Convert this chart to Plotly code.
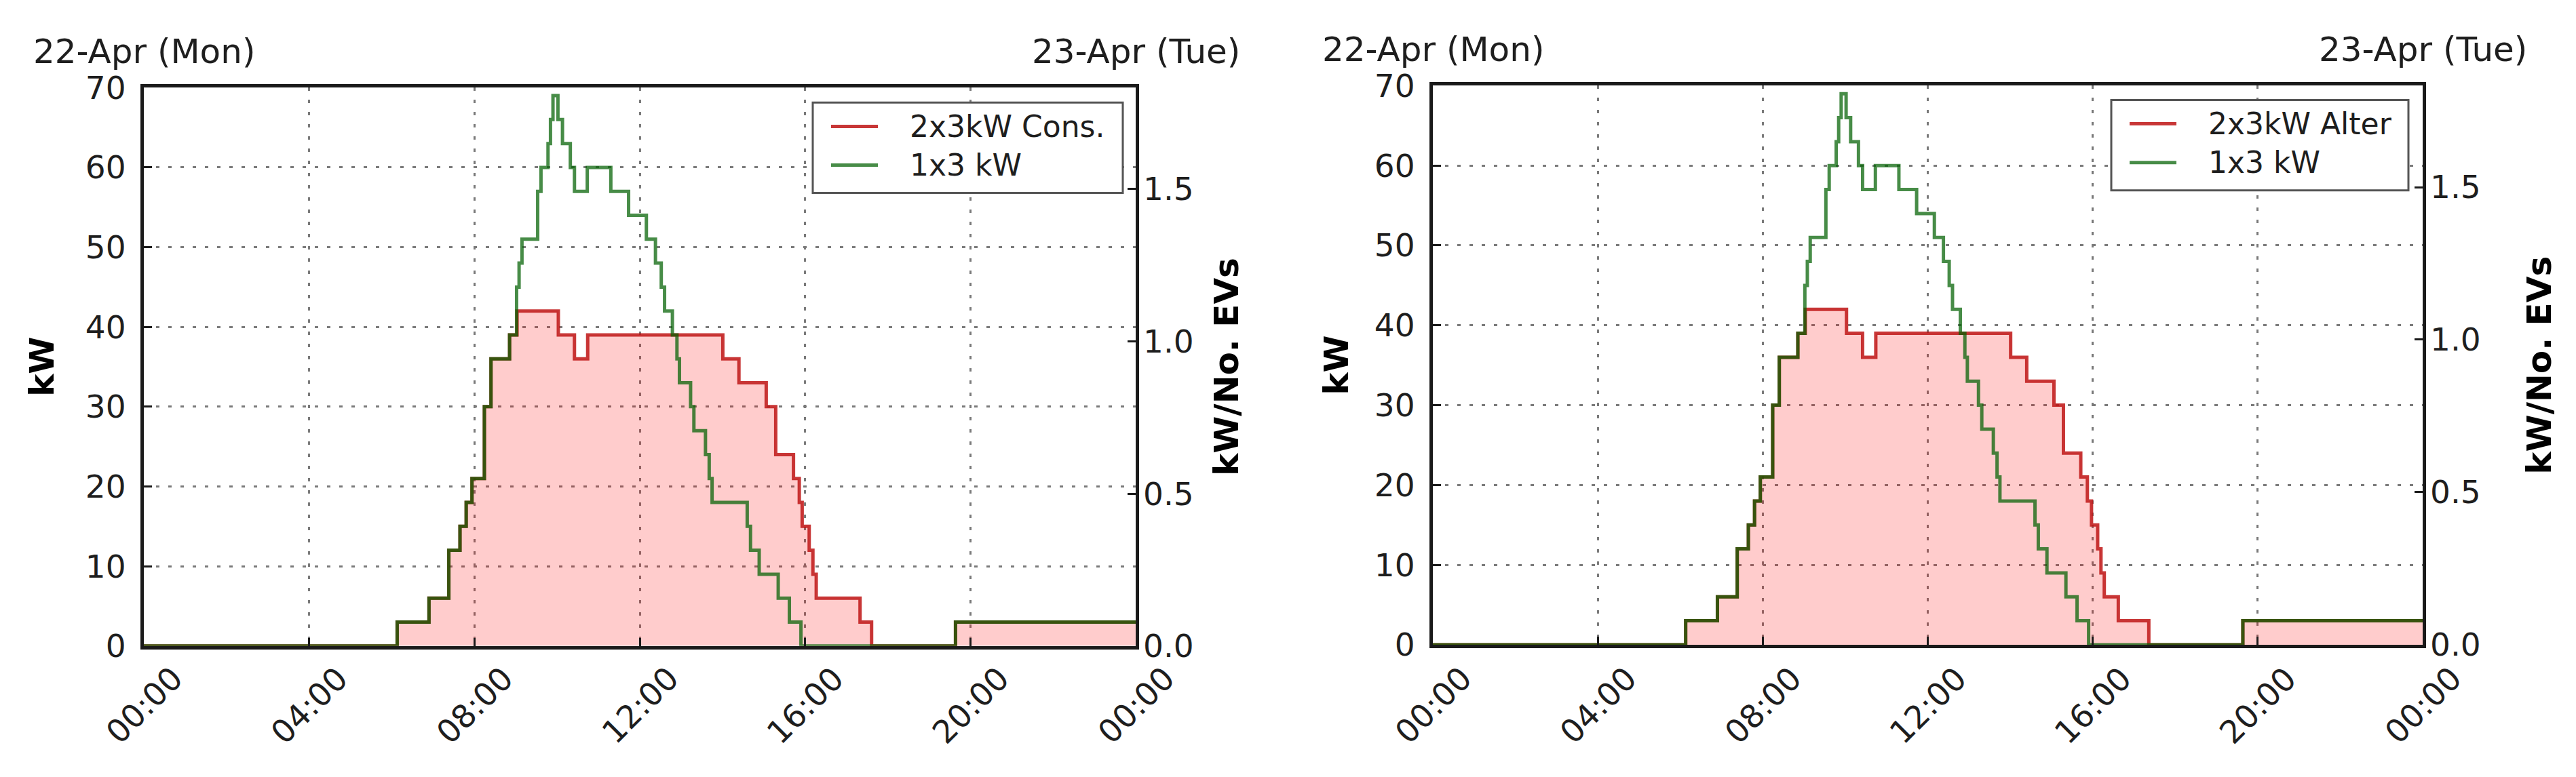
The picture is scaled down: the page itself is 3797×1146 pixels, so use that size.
import plotly.graph_objects as go

W, H = 3797, 1146

# hours after 00:00 on 22-Apr, kW (step values, held until the next time)
hours_1x3 = [0, 6.13, 6.90, 7.38, 7.65, 7.80, 7.94, 8.24, 8.40, 8.85, 9.02, 9.08, 9.15,
             9.53, 9.61, 9.78, 9.84, 9.90, 10.02, 10.13, 10.32, 10.42, 10.73, 11.30,
             11.73, 12.16, 12.38, 12.52, 12.60, 12.79, 12.90, 12.96, 13.23, 13.31,
             13.59, 13.68, 13.75, 14.60, 14.68, 14.89, 15.35, 15.62, 15.90, 19.64, 24]
kw_1x3 = [0, 3, 6, 12, 15, 18, 21, 30, 36, 39, 45, 48, 51, 57, 60, 63, 66, 69, 66, 63,
          60, 57, 60, 57, 54, 51, 48, 45, 42, 39, 36, 33, 30, 27, 24, 21, 18, 15, 12, 9,
          6, 3, 0, 3, 3]

hours_cons = [0, 6.13, 6.90, 7.38, 7.65, 7.80, 7.94, 8.24, 8.40, 8.85, 9.03, 10.03, 10.42,
              10.74, 14.01, 14.40, 15.06, 15.29, 15.72, 15.86, 15.93, 16.10, 16.19, 16.27,
              17.33, 17.61, 19.64, 24]
kw_cons = [0, 3, 6, 12, 15, 18, 21, 30, 36, 39, 42, 39, 36, 39, 36, 33, 30, 24, 21, 18,
           15, 12, 9, 6, 3, 0, 3, 3]

hours_alter = [0, 6.13, 6.90, 7.38, 7.65, 7.80, 7.94, 8.24, 8.40, 8.85, 9.03, 10.03, 10.42,
               10.74, 14.01, 14.40, 15.06, 15.29, 15.71, 15.87, 15.97, 16.12, 16.20, 16.28,
               16.62, 17.36, 19.64, 24]
kw_alter = [0, 3, 6, 12, 15, 18, 21, 30, 36, 39, 42, 39, 36, 39, 36, 33, 30, 24, 21, 18,
            15, 12, 9, 6, 3, 0, 3, 3]

hour_ticks = [0, 4, 8, 12, 16, 20, 24]
hour_labels = ["00:00", "04:00", "08:00", "12:00", "16:00", "20:00", "00:00"]
kw_ticks = [0, 10, 20, 30, 40, 50, 60, 70]
ev_ticks = [0.0, 0.5, 1.0, 1.5]
ev_labels = ["0.0", "0.5", "1.0", "1.5"]
day_labels = ["22-Apr (Mon)", "23-Apr (Tue)"]

RED = "rgba(190,20,20,0.85)"
RED_FILL = "rgba(255,0,0,0.2)"
GREEN = "rgba(0,95,0,0.72)"
FONT = "DejaVu Sans"
TXT = "#1e1e1e"


def px(x):
    return x / W


def py(y):
    return 1 - y / H


panels = [
    dict(xa="x", ya="y", ya2="y2", hours=hours_cons, kw=kw_cons, name="2x3kW Cons.",
         left=204, right=1666, top=98, bottom=963,
         legend=(1190, 1647, 121, 261), kw_title_x=54, ev_title_x=1800),
    dict(xa="x2", ya="y3", ya2="y4", hours=hours_alter, kw=kw_alter, name="2x3kW Alter",
         left=2104, right=3563, top=95, bottom=961,
         legend=(3104, 3542, 117, 257), kw_title_x=1962, ev_title_x=3735),
]

fig = go.Figure()
shapes, annotations = [], []

for p in panels:
    # 2x3kW curve with filled area
    fig.add_trace(go.Scatter(x=p["hours"], y=p["kw"], xaxis=p["xa"], yaxis=p["ya"],
                             mode="lines", line=dict(color=RED, width=5, shape="hv"),
                             fill="tozeroy", fillcolor=RED_FILL, showlegend=False,
                             name=p["name"]))
    # 1x3 kW curve
    fig.add_trace(go.Scatter(x=hours_1x3, y=kw_1x3, xaxis=p["xa"], yaxis=p["ya"],
                             mode="lines", line=dict(color=GREEN, width=5, shape="hv"),
                             showlegend=False, name="1x3 kW"))
    # empty trace so the twin axis is drawn
    fig.add_trace(go.Scatter(x=[], y=[], xaxis=p["xa"], yaxis=p["ya2"], showlegend=False,
                             hoverinfo="skip"))

    xdom = [px(p["left"]), px(p["right"])]
    ydom = [py(p["bottom"]), py(p["top"])]
    xkey = "xaxis" if p["xa"] == "x" else "xaxis" + p["xa"][1:]
    ykey = "yaxis" if p["ya"] == "y" else "yaxis" + p["ya"][1:]
    y2key = "yaxis" + p["ya2"][1:]

    fig.update_layout(**{
        xkey: dict(domain=xdom, anchor=p["ya"], range=[0, 24], tickvals=hour_ticks,
                   showticklabels=False, showgrid=True, gridcolor="#7a7a7a", gridwidth=3,
                   griddash="5px,13px", zeroline=False, showline=True, mirror=True,
                   linecolor="#1a1a1a", linewidth=5, ticks="inside", ticklen=12,
                   tickwidth=3, tickcolor="#1a1a1a"),
        ykey: dict(domain=ydom, anchor=p["xa"], range=[0, 70], tickvals=kw_ticks,
                   showgrid=True, gridcolor="#7a7a7a", gridwidth=3, griddash="5px,13px",
                   zeroline=False, showline=True, mirror=True, linecolor="#1a1a1a",
                   linewidth=5, ticks="inside", ticklen=12, tickwidth=3,
                   tickcolor="#1a1a1a", ticklabelstandoff=12,
                   tickfont=dict(family=FONT, size=47, color=TXT)),
        y2key: dict(overlaying=p["ya"], anchor=p["xa"], side="right", range=[0, 70 / 38.2],
                    tickvals=ev_ticks, ticktext=ev_labels, showgrid=False, zeroline=False,
                    showline=False, ticks="inside", ticklen=12, tickwidth=3,
                    tickcolor="#1a1a1a", ticklabelstandoff=10,
                    tickfont=dict(family=FONT, size=47, color=TXT)),
    })

    # rotated hour labels, centred under each tick
    for h, lab in zip(hour_ticks, hour_labels):
        annotations.append(dict(x=h, xref=p["xa"], y=py(1055), yref="paper", text=lab,
                                textangle=-45, showarrow=False, xanchor="center",
                                yanchor="middle",
                                font=dict(family=FONT, size=47, color=TXT)))
    # day labels on the top
    for h, lab in zip([0, 24], day_labels):
        annotations.append(dict(x=h, xref=p["xa"], y=py(p["top"] - 56), yref="paper",
                                text=lab, showarrow=False, xanchor="center",
                                yanchor="middle",
                                font=dict(family=FONT, size=50, color=TXT)))
    # axis titles
    mid = (p["top"] + p["bottom"]) / 2
    annotations.append(dict(x=px(p["kw_title_x"]), y=py(mid), xref="paper", yref="paper",
                            text="<b>kW</b>", textangle=-90, showarrow=False,
                            xanchor="center", yanchor="middle",
                            font=dict(family=FONT, size=50, color="#000")))
    annotations.append(dict(x=px(p["ev_title_x"]), y=py(mid), xref="paper", yref="paper",
                            text="<b>kW/No. EVs</b>", textangle=-90, showarrow=False,
                            xanchor="center", yanchor="middle",
                            font=dict(family=FONT, size=50, color="#000")))

    # legend box
    lx0, lx1, ly0, ly1 = p["legend"]
    shapes.append(dict(type="rect", xref="paper", yref="paper", x0=px(lx0), x1=px(lx1),
                       y0=py(ly1), y1=py(ly0), line=dict(color="#555555", width=3),
                       fillcolor="white", layer="above"))
    for i, (lab, col) in enumerate([(p["name"], RED), ("1x3 kW", GREEN)]):
        yy = ly0 + 37 + 60 * i
        shapes.append(dict(type="line", xref="paper", yref="paper", x0=px(lx0 + 27),
                           x1=px(lx0 + 96), y0=py(yy), y1=py(yy),
                           line=dict(color=col, width=5), layer="above"))
        annotations.append(dict(x=px(lx0 + 141), y=py(yy), xref="paper", yref="paper",
                                text=lab, showarrow=False, xanchor="left",
                                yanchor="middle",
                                font=dict(family=FONT, size=44, color=TXT)))

fig.update_layout(width=W, height=H, margin=dict(l=0, r=0, t=0, b=0),
                  paper_bgcolor="white", plot_bgcolor="white", showlegend=False,
                  shapes=shapes, annotations=annotations)

fig.write_html("out.html")
